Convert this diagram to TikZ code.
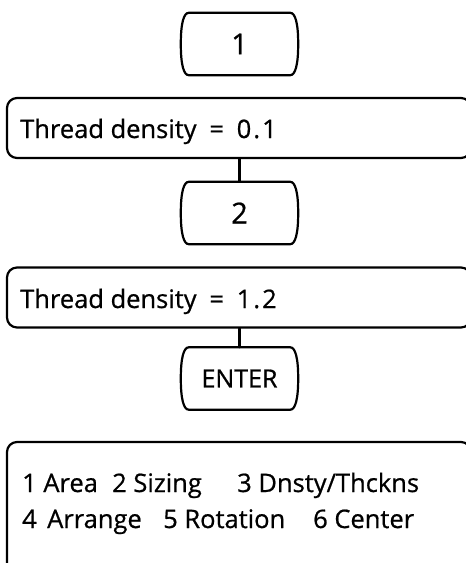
\documentclass[tikz,border=0pt]{standalone}
\usepackage{fontspec}
\setmainfont{Open Sans}[FakeBold=0.7]
\usetikzlibrary{calc}
\tikzset{
  boxline/.style={line width=2.2pt, line join=round, line cap=round},
  keynode/.style={minimum width=109pt, minimum height=62pt, inner sep=0pt, font=\fontsize{29}{32}\selectfont},
  enternode/.style={keynode, font=\fontsize{25}{30}\selectfont},
  wide/.style={boxline, draw, rounded corners=10pt, minimum width=464pt, minimum height=60pt, inner sep=0pt},
  txt/.style={anchor=base west, inner sep=0pt, font=\fontsize{25.5}{30}\selectfont},
}
\newcommand\keyoutline[1]{%
  \draw[boxline] ($(#1.north west)+(4,0)$) -- ($(#1.north east)+(-4,0)$)
   .. controls ($(#1.north east)+(1,0)$) and ($(#1.north east)+(4,10)$) .. ($(#1.east)+(4,0)$)
   .. controls ($(#1.south east)+(4,-10)$) and ($(#1.south east)+(1,0)$) .. ($(#1.south east)+(-4,0)$)
   -- ($(#1.south west)+(4,0)$)
   .. controls ($(#1.south west)+(-1,0)$) and ($(#1.south west)+(-4,-10)$) .. ($(#1.west)+(-4,0)$)
   .. controls ($(#1.north west)+(-4,10)$) and ($(#1.north west)+(-1,0)$) .. cycle;}
\begin{document}
\begin{tikzpicture}[x=1pt,y=-1pt]
\useasboundingbox (0,0) rectangle (466,563);
\clip (0,0) rectangle (466,563);
% keys
\node[keynode] (k1) at (239.5,44) {1};
\keyoutline{k1}
\node[keynode] (k2) at (239.5,213) {2};
\keyoutline{k2}
\node[enternode] (k3) at (239.5,378.5) {ENTER};
\keyoutline{k3}
% thread boxes
\node[wide] (t1) at (239,128) {};
\node[txt] (t1txt) at (20,138) {Thread density\hspace{0.5em}=\hspace{0.5em}{\addfontfeatures{LetterSpace=8}0.1}};
\node[wide] (t2) at (239,297.5) {};
\node[txt] (t2txt) at (20,308) {Thread density\hspace{0.5em}=\hspace{0.5em}{\addfontfeatures{LetterSpace=8}1.2}};
% connectors
\draw[boxline] (k2.north |- t1.south) -- (k2.north);
\draw[boxline] (k3.north |- t2.south) -- (k3.north);
% menu box
\node[wide, minimum height=160pt] (menu) at (239,522) {};
\node[txt] (m1) at (22,492) {1 Area};
\node[txt] (m2) at (112,492) {2 Sizing};
\node[txt] (m3) at (237,492) {3 Dnsty/Thckns};
\node[txt] (m4) at (22,528) {4\hspace{0.15em} Arrange};
\node[txt] (m5) at (163,528) {5 Rotation};
\node[txt] (m6) at (313,528) {6 Center};
\end{tikzpicture}
\end{document}
